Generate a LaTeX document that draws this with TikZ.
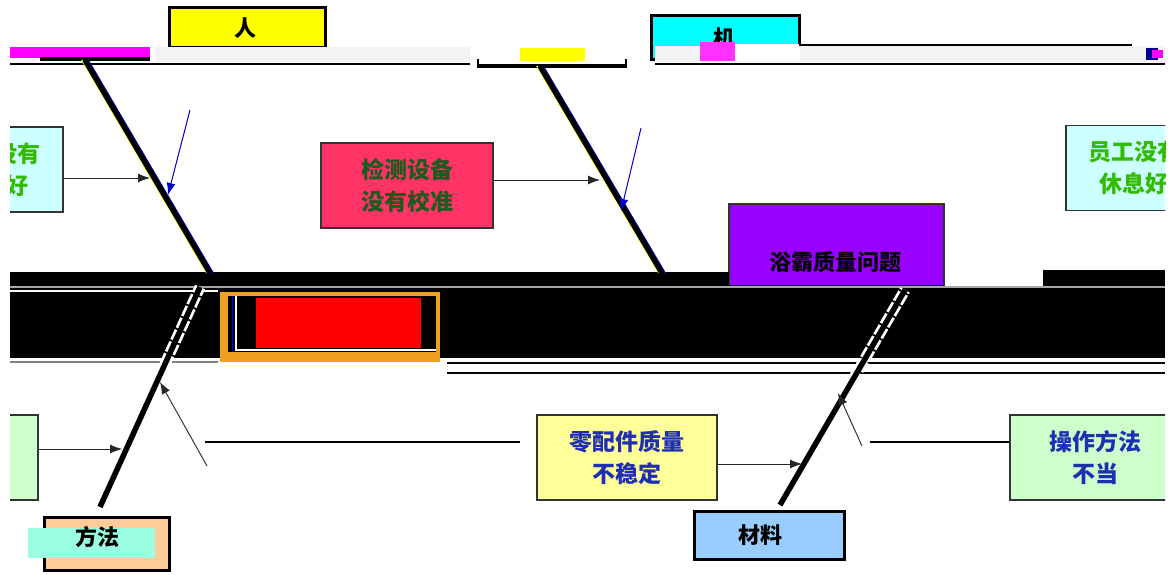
\documentclass[tikz,border=0pt]{standalone}
\usepackage{fontspec}
\setmainfont{Noto Sans CJK SC}
\usetikzlibrary{arrows.meta}
\definecolor{rbox}{HTML}{FF3366}
\definecolor{cbox}{HTML}{CCFFFF}
\definecolor{gbox}{HTML}{CCFFCC}
\definecolor{ybox}{HTML}{FFFF99}
\definecolor{pbox}{HTML}{9900FF}
\definecolor{bbox}{HTML}{99CCFF}
\definecolor{obox}{HTML}{FFCC99}
\definecolor{gtxt}{HTML}{33BB00}
\definecolor{dgtxt}{HTML}{1E5A1E}
\definecolor{btxt}{HTML}{1F2FB0}
\definecolor{band}{HTML}{F3F3F3}
\definecolor{orng}{HTML}{F0A020}
\definecolor{pcyan}{HTML}{00FFFF}
\definecolor{pyellow}{HTML}{FFFF00}
\definecolor{pmag}{HTML}{FF00FF}
\definecolor{pred}{HTML}{FF0000}
\definecolor{pblue}{HTML}{0000FF}
\begin{document}
\begin{tikzpicture}[x=1pt,y=-1pt,
  box/.style={draw=black!80,line width=1.2pt,inner sep=0pt,align=center},
  headbox/.style={draw=black,line width=3pt,inner sep=0pt},
  txt/.style={font=\fontsize{23}{32}\selectfont\bfseries},
  headtxt/.style={font=\fontsize{22}{22}\selectfont\bfseries},
  bone/.style={line width=5.5pt,black},
  boneedge/.style={line width=1.3pt,pyellow},
  thin/.style={line width=0.9pt,black!85,-{Latex[length=12pt,width=9pt]}},
  thinb/.style={line width=1pt,pblue!80!black,-{Latex[length=12pt,width=9pt]}},
  hline/.style={line width=1.6pt,black}]
\useasboundingbox (0,0) rectangle (1168,575);
\fill[white] (0,0) rectangle (1168,575);
\begin{scope}
\clip (10,0) rectangle (1165,575);
% ---------- head boxes on top ----------
\node[headbox,fill=pyellow,minimum width=156,minimum height=40] (ren) at (247,28) {};
\node[headtxt] (rent) at (245,28) {人};
\node[headbox,fill=pcyan,minimum width=148,minimum height=44] (ji) at (725,38) {};
\node[headtxt] (jit) at (724,38) {机};
% top band
\fill[pmag] (10,47) rectangle (150,58);
\fill[black] (40,57) rectangle (150,61);
\fill[band] (155,47) rectangle (470,62);
\fill[band] (655,46) rectangle (1165,62);
\fill[white] (735,44) rectangle (800,61);
\fill[pmag!80] (700,42) rectangle (735,61);
\fill[pyellow] (520,48) rectangle (585,61);
\draw[line width=1.2pt] (800,16) -- (800,45) -- (1132,45);
\draw[line width=2pt] (10,64) -- (470,64);
\draw[line width=2pt] (655,64) -- (1165,64);
\draw[line width=4pt] (477,66) -- (627,66);
\draw[line width=2pt] (478,59) -- (478,68) (626,59) -- (626,68);
\fill[pblue!60!black] (1146,48) rectangle (1158,60);
\fill[pmag] (1152,50) rectangle (1163,58);
% ---------- effect box ----------
\node[box,fill=pbox,minimum width=215,minimum height=82] (eff) at (836.5,245) {};
\node[headtxt] (efft) at (835,262) {浴霸质量问题};
% ---------- spine / black block ----------
\fill[black] (10,272) rectangle (729,358);
\fill[black] (729,285) rectangle (944,358);
\fill[black] (944,287) rectangle (1043,358);
\fill[black] (1043,270) rectangle (1165,358);
\draw[line width=1.5pt,black!35] (10,287) -- (1165,287);
\draw[line width=1.5pt,white] (10,291) -- (218,291);
\draw[line width=1.5pt,black!50] (10,362) -- (218,362);
\draw[hline] (447,363) -- (1165,363);
\draw[hline] (447,373) -- (1165,373);
% orange framed red block
\fill[orng] (220,292) rectangle (440,362);
\fill[black] (228,296) rectangle (436,352);
\draw[pblue,line width=1pt] (232,296) -- (232,352);
\draw[white,line width=1.2pt] (236,296) -- (236,350) -- (436,350);
\fill[pred] (256,298) rectangle (421,348);
% ---------- cause boxes ----------
\node[box,fill=cbox,minimum width=137,minimum height=85,txt,text=gtxt] (c1) at (-5.5,169.5) {员工没有\\休息好};
\node[box,fill=cbox,minimum width=136,minimum height=85,txt,text=gtxt] (c2) at (1134,168) {员工没有\\休息好};
\node[box,fill=rbox,minimum width=172,minimum height=85,txt,text=dgtxt] (c3) at (407,185.5) {检测设备\\没有校准};
\node[box,fill=gbox,minimum width=60,minimum height=85] (c4) at (8,457.5) {};
\node[box,fill=ybox,minimum width=180,minimum height=85,txt,text=btxt] (c5) at (627,457.5) {零配件质量\\不稳定};
\node[box,fill=gbox,minimum width=170,minimum height=85,txt,text=btxt] (c6) at (1095,457.5) {操作方法\\不当};
% ---------- bottom head boxes ----------
\node[headbox,fill=obox,minimum width=125,minimum height=53] (fa) at (107,544) {};
\fill[green!30!cyan!40] (28,528) rectangle (155,558);
\node[headtxt] (fat) at (97,537) {方法};
\node[headbox,fill=bbox,minimum width=150,minimum height=48] (cl) at (769,535) {};
\node[headtxt] (clt) at (760,535) {材料};
% ---------- bones ----------
\coordinate (b1s) at (85,60);  \coordinate (b1e) at (210,273);
\coordinate (b2s) at (540,66); \coordinate (b2e) at (662,273);
\coordinate (b3s) at (100,507); \coordinate (b3e) at (200,287);
\coordinate (b4s) at (780,505); \coordinate (b4e) at (905,290);
\draw[boneedge] ([xshift=-3.2pt]b1s) -- ([xshift=-3.2pt]b1e);
\draw[boneedge] ([xshift=-3.2pt]b2s) -- ([xshift=-3.2pt]b2e);
\draw[line width=1.3pt,pblue] ([xshift=3.2pt]b1s) -- ([xshift=3.2pt]b1e);
\draw[line width=1.3pt,pblue] ([xshift=3.2pt]b2s) -- ([xshift=3.2pt]b2e);
\draw[bone] (b1s) -- (b1e);
\draw[bone] (b2s) -- (b2e);
\draw[line width=11pt,white,dotted] (b3s) -- (b3e);
\draw[line width=11pt,white,dotted] (b4s) -- (b4e);
\draw[bone] (b3s) -- (b3e);
\draw[bone] (b4s) -- (b4e);
% ---------- connectors ----------
\coordinate (a1e) at (150,178);
\draw[thin] (c1.east |- a1e) -- (a1e);
\coordinate (a2e) at (600,180);
\draw[thin] (c3.east |- a2e) -- (a2e);
\coordinate (a3s) at (190,110); \coordinate (a3e) at (168,195);
\draw[thinb] (a3s) -- (a3e);
\coordinate (a4s) at (641,128); \coordinate (a4e) at (621,211);
\draw[thinb] (a4s) -- (a4e);
\coordinate (a5e) at (122,449);
\draw[thin] (c4.east |- a5e) -- (a5e);
\coordinate (a6e) at (802,464);
\draw[thin] (c5.east |- a6e) -- (a6e);
\coordinate (a7s) at (207,466); \coordinate (a7e) at (160,382);
\draw[thin] (a7s) -- (a7e);
\coordinate (a8s) at (862,446); \coordinate (a8e) at (838,393);
\draw[thin] (a8s) -- (a8e);
\coordinate (h1s) at (205,442); \coordinate (h1e) at (520,442);
\draw[hline] (h1s) -- (h1e);
\coordinate (h2s) at (870,442);
\draw[line width=1.2pt] (h2s) -- (c6.west |- h2s);
\end{scope}
\end{tikzpicture}
\end{document}
